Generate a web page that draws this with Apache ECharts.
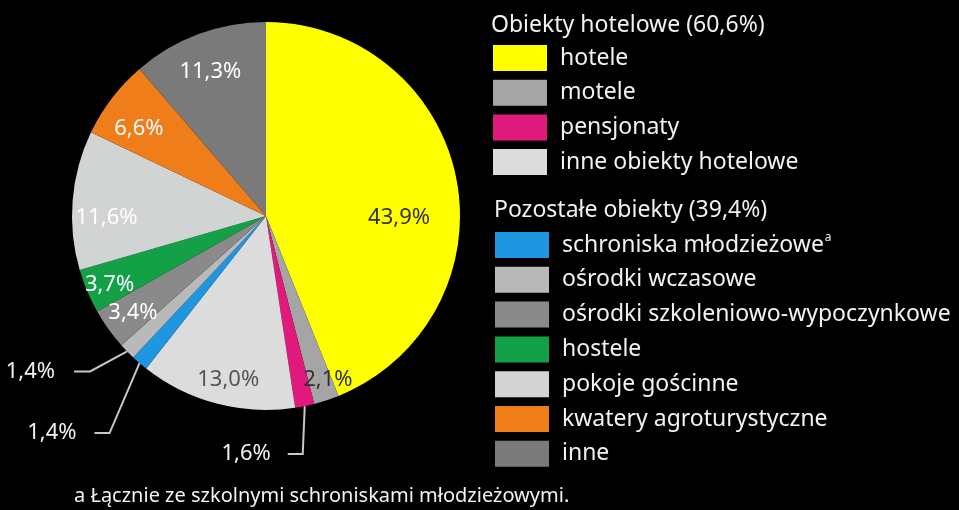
<!DOCTYPE html>
<html><head><meta charset="utf-8">
<script src="https://cdn.jsdelivr.net/npm/echarts@6/dist/echarts.min.js"></script>
<style>html,body{margin:0;padding:0;background:#000;}#c{width:959px;height:510px;}</style>
</head><body><div id="c"></div>
<script>
const categories = ['hotele','motele','pensjonaty','inne obiekty hotelowe','schroniska młodzieżowe','ośrodki wczasowe','ośrodki szkoleniowo-wypoczynkowe','hostele','pokoje gościnne','kwatery agroturystyczne','inne'];
const values = [43.9, 2.1, 1.6, 13.0, 1.4, 1.4, 3.4, 3.7, 11.6, 6.6, 11.3];
const groupHotel = categories.slice(0, 4);
const groupOther = categories.slice(4);
const groupTitles = ['Obiekty hotelowe (60,6%)', 'Pozostałe obiekty (39,4%)'];
const footnote = 'a Łącznie ze szkolnymi schroniskami młodzieżowymi.';
const superscriptItem = 'schroniska młodzieżowe';

const colors = ['#ffff00','#a5a5a5','#e0197d','#dcdcdc','#1e96e0','#b9b9b9','#8a8a8a','#13a047','#d2d4d4','#ee7d1a','#7a7a7a'];
const outsideIdx = [2, 4, 5];
const labelColors = {0: '#333333', 1: '#333333', 3: '#555555'};
const insideNudge = {0: [-24, 32], 1: [12, 12], 3: [3, 9], 6: [-3, 4], 7: [-9, 7], 8: [0, 15], 9: [0, 10], 10: [0, 6]};
const outsideGuide = {2: {bend: [-2, 48], h: -15, gap: 17}, 4: {bend: [-30, 70], h: -15, gap: 18}, 5: {bend: [-37, 20], h: -16, gap: 19}};

const FONT = 'Noto Sans';
const TXT = '#f2f2f2';
const LEG_FS = 23;
const fmt = v => v.toFixed(1).replace('.', ',') + '%';
const CENTER = [266, 216];
const R = 194;

const chart = echarts.init(document.getElementById('c'));

const mainData = categories.map((n, i) => ({
  name: n, value: values[i],
  itemStyle: {color: colors[i]},
  label: {show: outsideIdx.indexOf(i) >= 0},
  labelLine: {show: outsideIdx.indexOf(i) >= 0}
}));
const overlayData = values.map((v, i) => ({
  value: v,
  label: {show: outsideIdx.indexOf(i) < 0, color: labelColors[i] || '#ffffff'}
}));

const legendBase = {
  orient: 'vertical', icon: 'rect', itemWidth: 54, itemHeight: 26, padding: 0,
  selectedMode: false,
  textStyle: {color: TXT, fontSize: LEG_FS, fontFamily: FONT, lineHeight: 26, padding: [0, 0, 0, 8],
    rich: {n: {color: TXT, fontSize: LEG_FS, fontFamily: FONT}, s: {color: TXT, fontSize: 12, fontFamily: FONT, verticalAlign: 'top', padding: [0, 0, 13, 1]}}},
  formatter: name => name === superscriptItem ? '{n|' + name + '}{s|a}' : name
};
const titleStyle = {color: TXT, fontSize: LEG_FS, fontWeight: 'normal', fontFamily: FONT, lineHeight: 26};

chart.setOption({
  backgroundColor: '#000000',
  animation: false,
  title: [
    {text: groupTitles[0], left: 491, top: 12, padding: 0, textStyle: titleStyle},
    {text: groupTitles[1], left: 494, top: 197, padding: 0, textStyle: titleStyle},
    {text: footnote, left: 74, top: 483, padding: 0, textStyle: {color: TXT, fontSize: 20, fontWeight: 'normal', fontFamily: FONT, lineHeight: 26}}
  ],
  legend: [
    Object.assign({}, legendBase, {data: groupHotel, left: 493, top: 45, itemGap: 8.7}),
    Object.assign({}, legendBase, {data: groupOther, left: 495, top: 232, itemGap: 8.8})
  ],
  series: [
    {
      type: 'pie', center: CENTER, radius: [0, R], startAngle: 90, clockwise: true,
      avoidLabelOverlap: false, emphasis: {disabled: true},
      label: {position: 'outside', formatter: p => fmt(p.value), color: TXT, fontSize: 22, fontFamily: FONT},
      labelLine: {length: 20, length2: 15, lineStyle: {color: '#c8c8c8', width: 2}},
      labelLayout: function (p) {
        const g = outsideGuide[p.dataIndex];
        if (!g || !p.labelLinePoints) return {};
        const p0 = p.labelLinePoints[0];
        const bend = [p0[0] + g.bend[0], p0[1] + g.bend[1]];
        const end = [bend[0] + g.h, bend[1]];
        return {x: end[0] - g.gap, y: end[1], align: 'right', verticalAlign: 'middle', labelLinePoints: [[p0[0], p0[1]], bend, end]};
      },
      data: mainData
    },
    {
      type: 'pie', center: CENTER, radius: [120, R], startAngle: 90, clockwise: true,
      silent: true, avoidLabelOverlap: false, emphasis: {disabled: true},
      itemStyle: {color: 'rgba(0,0,0,0)'},
      label: {position: 'inside', formatter: p => fmt(p.value), fontSize: 22, fontFamily: FONT, textBorderWidth: 0},
      labelLine: {show: false},
      labelLayout: function (p) {
        const d = insideNudge[p.dataIndex];
        return d ? {dx: d[0], dy: d[1]} : {};
      },
      data: overlayData
    }
  ]
});
</script></body></html>
